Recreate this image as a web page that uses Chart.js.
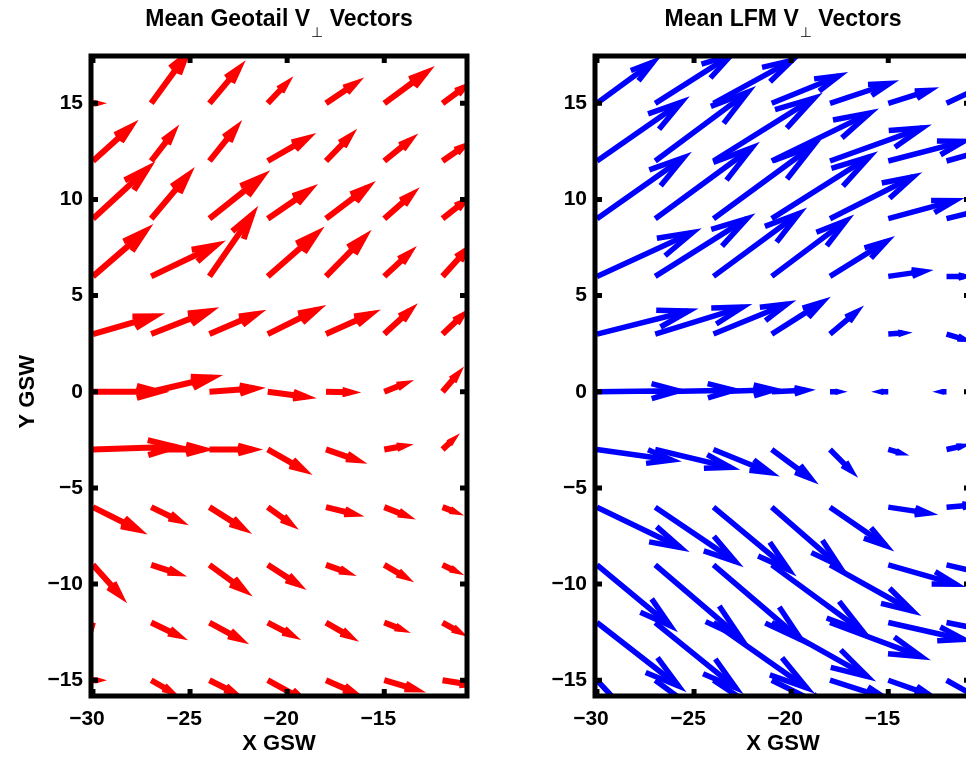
<!DOCTYPE html>
<html><head><meta charset="utf-8">
<script src="https://cdn.jsdelivr.net/npm/chart.js@4.4.1/dist/chart.umd.min.js"></script>
<style>
html,body{margin:0;padding:0;background:#fff;overflow:hidden;width:966px;height:757px;}
canvas{position:absolute;top:0;}
#c1{left:0px}
#c2{left:504px}
</style></head><body>
<canvas id="c1" width="483" height="757"></canvas>
<canvas id="c2" width="483" height="757"></canvas>
<script>
// grid of vector tails
const gridX = [-30, -27, -24, -21, -18, -15, -12];
const gridY = [15, 12, 9, 6, 3, 0, -3, -6, -9, -12, -15];
// axis ticks
const xTicks = [-30, -25, -20, -15];
const yTicks = [-15, -10, -5, 0, 5, 10, 15];
// axis limits
const xMin = -30.1, xMax = -10.74;
const yMin = -15.82, yMax = 17.46;

// Geotail mean V_perp (displayed displacement, rows follow gridY)
const geoU = [
  [0.15, 1.8, 1.5, 0.93, 1.49, 2.14, 1.1],
  [1.93, 1.10, 1.33, 2.0, 1.21, 1.31, 1.04],
  [2.8, 1.88, 2.68, 2.12, 2.11, 1.40, 1.09],
  [2.68, 3.33, 2.19, 2.5, 1.95, 1.26, 1.21],
  [3.16, 2.97, 2.4, 2.5, 2.3, 1.31, 1.0],
  [3.37, 3.14, 2.33, 1.95, 1.24, 1.0, 0.74],
  [4.23, 2.68, 2.19, 1.81, 1.59, 0.95, 0.48],
  [2.3, 1.42, 1.71, 1.14, 1.42, 1.09, 0.57],
  [1.38, 1.3, 1.76, 1.52, 1.04, 1.04, 0.6],
  [-0.4, 1.38, 1.54, 1.21, 1.21, 0.83, 0.79],
  [0.15, 0.95, 1.21, 1.8, 1.38, 1.6, 1.3]
];
const geoV = [
  [0.0, 2.5, 1.8, 0.99, 1.02, 1.59, 0.82],
  [1.76, 1.44, 1.68, 1.16, 1.26, 1.07, 0.73],
  [2.6, 2.25, 2.16, 1.47, 1.61, 1.25, 0.87],
  [2.34, 1.61, 3.2, 2.21, 2.01, 1.18, 1.35],
  [0.92, 1.18, 1.04, 1.25, 1.04, 1.21, 0.95],
  [0.0, 0.74, 0.17, -0.26, -0.03, 0.4, 0.87],
  [0.14, 0.0, 0.0, -1.04, -0.55, 0.17, 0.45],
  [-1.16, -0.69, -1.09, -0.83, -0.35, -0.43, -0.22],
  [-1.56, -0.43, -1.30, -0.99, -0.38, -0.61, -0.29],
  [-1.4, -0.67, -0.85, -0.64, -0.71, -0.33, -0.45],
  [0.0, -0.55, -0.61, -1.0, -0.61, -0.47, -0.21]
];
// LFM mean V_perp
const lfmU = [
  [2.9, 3.9, 4.04, 3.45, 3.06, 2.12, 1.9],
  [4.35, 4.77, 5.18, 5.05, 4.75, 3.88, 2.5],
  [4.46, 4.97, 5.13, 5.03, 4.28, 3.42, 2.2],
  [4.92, 4.72, 4.4, 3.83, 2.9, 1.81, 0.9],
  [4.72, 4.5, 3.78, 2.6, 1.35, 0.73, 0.86],
  [4.2, 4.04, 3.1, 1.74, 0.38, -0.35, -0.2],
  [3.85, 3.87, 2.93, 2.0, 1.08, 0.58, 0.76],
  [4.3, 4.12, 3.88, 3.47, 2.88, 2.05, 1.2],
  [3.77, 4.4, 4.52, 4.7, 4.25, 3.47, 2.5],
  [4.2, 4.15, 4.8, 4.92, 4.7, 3.88, 2.5],
  [3.6, 3.5, 3.6, 3.0, 2.8, 2.1, 1.6]
];
const lfmV = [
  [2.15, 2.5, 2.23, 1.42, 1.03, 0.67, 0.9],
  [3.06, 3.58, 3.27, 2.49, 1.72, 1.02, 0.7],
  [3.17, 3.68, 3.79, 3.22, 2.18, 0.94, 0.55],
  [2.28, 3.0, 3.27, 2.9, 1.82, 0.26, 0.0],
  [1.2, 1.4, 1.56, 1.66, 1.14, 0.05, -0.26],
  [0.05, 0.08, 0.1, 0.08, 0.0, 0.0, 0.0],
  [-0.55, -0.93, -1.21, -1.5, -1.1, -0.17, 0.17],
  [-2.1, -2.82, -3.26, -3.05, -2.0, -0.31, 0.1],
  [-3.16, -3.8, -3.9, -3.48, -2.4, -1.0, -0.6],
  [-3.3, -3.4, -3.4, -2.8, -1.77, -0.88, -0.5],
  [-3.9, -2.6, -2.4, -1.5, -0.9, -0.75, -0.9]
];

const ALPHA = 0.33, BETA = 0.28;
const FONT = '"Liberation Sans", "DejaVu Sans", Arial, sans-serif';

function buildArrows(U, V) {
  const shaft = [], head = [];
  gridY.forEach((y, r) => gridX.forEach((x, c) => {
    const u = U[r][c], v = V[r][c];
    const tx = x + u, ty = y + v;
    shaft.push({x: x, y: y}, {x: tx, y: ty}, {x: tx, y: null});
    head.push({x: tx - ALPHA * (u + BETA * v), y: ty - ALPHA * (v - BETA * u)},
              {x: tx, y: ty},
              {x: tx - ALPHA * (u - BETA * v), y: ty - ALPHA * (v + BETA * u)},
              {x: tx, y: null});
  }));
  return {shaft, head};
}

const fmt = v => (v < 0 ? '\u2212' : '') + Math.abs(v);

const framePlugin = {
  id: 'matFrame',
  afterDatasetsDraw(chart, args, opts) {
    const {ctx, chartArea: a} = chart;
    const x = chart.scales.x, y = chart.scales.y;
    ctx.save();
    ctx.strokeStyle = '#000';
    ctx.lineWidth = 5;
    ctx.lineJoin = 'miter';
    ctx.strokeRect(a.left, a.top, a.right - a.left, a.bottom - a.top);
    ctx.lineCap = 'butt';
    ctx.beginPath();
    xTicks.forEach(v => {
      const p = x.getPixelForValue(v);
      ctx.moveTo(p, a.top); ctx.lineTo(p, a.top + 7);
      ctx.moveTo(p, a.bottom); ctx.lineTo(p, a.bottom - 7);
    });
    yTicks.forEach(v => {
      const p = y.getPixelForValue(v);
      ctx.moveTo(a.left, p); ctx.lineTo(a.left + 7, p);
      ctx.moveTo(a.right, p); ctx.lineTo(a.right - 7, p);
    });
    ctx.stroke();
    ctx.fillStyle = '#000';
    // title with subscript
    const [t1, sub, t2] = opts.title;
    const big = 'bold 23px ' + FONT, small = '14px "DejaVu Sans", ' + FONT;
    ctx.textBaseline = 'alphabetic';
    ctx.textAlign = 'left';
    ctx.font = big; const w1 = ctx.measureText(t1).width, w3 = ctx.measureText(t2).width;
    ctx.font = small; const w2 = ctx.measureText(sub).width;
    const gap = 1;
    const total = w1 + gap + w2 + w3;
    let sx = (a.left + a.right) / 2 - total / 2;
    ctx.font = big; ctx.fillText(t1, sx, 26); sx += w1 + gap;
    ctx.font = small; ctx.fillText(sub, sx, 37); sx += w2;
    ctx.font = big; ctx.fillText(t2, sx, 26);
    // y axis label (left panel only)
    if (opts.yLabel) {
      ctx.save();
      ctx.translate(28, y.getPixelForValue(0));
      ctx.rotate(-Math.PI / 2);
      ctx.textAlign = 'center';
      ctx.textBaseline = 'middle';
      ctx.font = 'bold 22px ' + FONT;
      ctx.fillText(opts.yLabel, 0, 0);
      ctx.restore();
    }
    ctx.restore();
  }
};

function makeChart(id, U, V, color, width, title, yLabel) {
  const {shaft, head} = buildArrows(U, V);
  const common = {
    showLine: true, pointRadius: 0, pointHoverRadius: 0, borderWidth: width,
    borderColor: color, backgroundColor: color, spanGaps: false, clip: 0,
    tension: 0, borderCapStyle: 'butt', borderJoinStyle: 'miter', fill: false
  };
  return new Chart(document.getElementById(id), {
    type: 'scatter',
    data: {datasets: [
      Object.assign({label: 'shaft', data: shaft}, common),
      Object.assign({label: 'head', data: head}, common)
    ]},
    options: {
      responsive: false, animation: false, devicePixelRatio: 1,
      layout: {padding: {left: 0, right: 16, top: 56, bottom: 0}},
      plugins: {legend: {display: false}, tooltip: {enabled: false}, title: {display: false},
                matFrame: {title: title, yLabel: yLabel}},
      scales: {
        x: {
          type: 'linear', min: xMin, max: xMax,
          grid: {display: false, drawTicks: false}, border: {display: false},
          afterBuildTicks: s => { s.ticks = xTicks.map(v => ({value: v})); },
          afterFit: s => { s.height = 61; },
          ticks: {color: '#000', font: {family: FONT, size: 21, weight: 'bold'}, padding: 11,
                  labelOffset: -6, maxRotation: 0, autoSkip: false, callback: fmt},
          title: {display: true, text: 'X GSW', color: '#000',
                  font: {family: FONT, size: 22, weight: 'bold'}, padding: {top: 0, bottom: 0}}
        },
        y: {
          type: 'linear', min: yMin, max: yMax,
          grid: {display: false, drawTicks: false}, border: {display: false},
          afterBuildTicks: s => { s.ticks = yTicks.map(v => ({value: v})); },
          afterFit: s => { s.width = 91; },
          ticks: {color: '#000', font: {family: FONT, size: 21, weight: 'bold'}, padding: 8,
                  autoSkip: false, callback: fmt},
          title: {display: false}
        }
      }
    },
    plugins: [framePlugin]
  });
}

makeChart('c1', geoU, geoV, '#ff0000', 6, ['Mean Geotail V', '\u22A5', ' Vectors'], 'Y GSW');
makeChart('c2', lfmU, lfmV, '#0000ff', 5.5, ['Mean LFM V', '\u22A5', ' Vectors'], null);
</script>
</body></html>
